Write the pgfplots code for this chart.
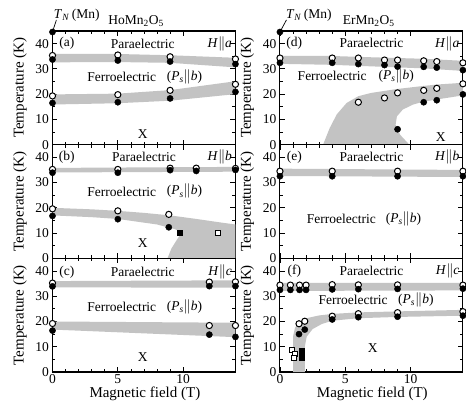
\documentclass[border=0pt]{standalone}
\usepackage{pgfplots}
\pgfplotsset{compat=1.18}
\usepgfplotslibrary{groupplots}
\usepackage{fontspec}
\setmainfont{Liberation Serif}
\definecolor{band}{RGB}{195,195,195}
\newcommand{\ft}{\fontsize{13.5}{14}\selectfont}
\newcommand{\Hpar}[1]{\textit{H}$\|$\textit{#1}}
\newcommand{\Ps}{(\textit{P}\textsubscript{\textit{s}}$\|$\textit{b})}
\tikzset{txt/.style={inner sep=0pt, font=\ft}}
\pgfplotsset{
  openc/.style={only marks, mark=*, mark size=3.1pt, mark options={fill=white, draw=black, line width=1pt}},
  fillc/.style={only marks, mark=*, mark size=3.1pt, mark options={fill=black, draw=black}},
  opens/.style={only marks, mark=square*, mark size=2.5pt, mark options={fill=white, draw=black, line width=0.9pt}},
  fills/.style={only marks, mark=square*, mark size=2.5pt, mark options={fill=black, draw=black}},
  bandf/.style={fill=band, draw=none},
}
\begin{document}
\begin{tikzpicture}
\begin{groupplot}[
  group style={group name=G, group size=2 by 3, horizontal sep=44.5pt, vertical sep=0pt, xticklabels at=edge bottom},
  scale only axis, width=183pt, height=113.7pt,
  xmin=0, xmax=14, ymin=0, ymax=45,
  xtick={0,5,10}, minor x tick num=4,
  ytick={0,10,20,30,40}, minor y tick num=1,
  axis line style={line width=1.1pt},
  tick style={line width=0.8pt, black},
  major tick length=5pt, minor tick length=3pt,
  ticklabel style={font=\ft},
  xticklabel style={yshift=1pt},
  /pgf/number format/assume math mode=true,
  ylabel={Temperature (K)},
  label style={font=\fontsize{15}{16}\selectfont},
  ylabel style={at={(axis description cs:-0.178,0.5)}, anchor=center},
  xlabel style={at={(axis description cs:0.505,-0.196)}, anchor=center},
  clip=false,
]
% (a) HoMn2O5 H||a
\nextgroupplot
\addplot[bandf] coordinates {(0,35.9) (5,35.9) (9,35.4) (14,34.4) (14,30.6) (9,32.4) (5,32.7) (0,32.6)} -- cycle;
\addplot[bandf] coordinates {(0,19.9) (5,20.2) (9,21.6) (14,25.1) (14,20.0) (9,17.4) (5,16.4) (0,15.9)} -- cycle;
\addplot[openc] coordinates {(0,35.3) (5,35.5) (9,34.8) (14,33.9) (0,19.3) (5,19.8) (9,21.5) (14,23.9)};
\addplot[fillc] coordinates {(0,33.7) (5,33.3) (9,32.9) (14,31.9) (0,16.5) (5,16.8) (9,18.3) (14,20.9) (0,44.6)};
\draw[line width=0.7pt] (axis cs:0,44.6) -- (axis cs:0.3,49.4);
\node[txt, anchor=base west] at (axis cs:0.1,50.1) {\textit{T}\textsubscript{\textit{N}}\,(Mn)};
\node[txt, anchor=base] at (axis cs:6.4,47.6) {HoMn\textsubscript{2}O\textsubscript{5}};
\node[txt] at (axis cs:1.1,40) {(a)};
\node[txt] at (axis cs:6.9,40) {Paraelectric};
\node[txt, anchor=east] at (axis cs:13.75,40) {\Hpar{a}};
\node[txt] at (axis cs:5.3,26.8) {Ferroelectric};
\node[txt] at (axis cs:10.1,26.8) {\Ps};
\node[txt] at (axis cs:6.9,4.3) {X};
% (d) ErMn2O5 H||a
\nextgroupplot
\addplot[bandf] coordinates {(0,35.2) (4,35.1) (7,34.6) (11,34.0) (14,33.2) (14,29.2) (11,30.2) (9,30.6) (4,31.6) (0,32.0)} -- cycle;
\addplot[bandf] coordinates {(3.3,0) (3.8,6.5) (4.35,12) (5.1,16.5) (6,19.2) (7,20.5) (7.9,21.2) (8.9,22) (10.9,23.2) (12,23.8) (14,24.5) (14,19.5) (12,17.9) (10.9,16.9) (10.2,15.9) (9.4,13.9) (8.95,11.2) (8.85,7.9) (9.2,3.9) (9.9,0)} -- cycle;
\addplot[openc] coordinates {(0,34.3) (4,34.3) (6,34.3) (8,33.5) (9,33.5) (11,33.2) (12,32.9) (14,32.4) (6,16.8) (8,18.5) (9,20.5) (11,21.5) (12,22.3) (14,24.1)};
\addplot[fillc] coordinates {(0,32.4) (4,32.4) (6,31.9) (8,31.5) (9,30.9) (11,30.8) (12,30.5) (14,29.5) (9,6.1) (11,16.8) (12,17.6) (14,19.9) (0,44.6)};
\draw[line width=0.7pt] (axis cs:0,44.6) -- (axis cs:0.5,49.4);
\node[txt, anchor=base west] at (axis cs:0.45,50.1) {\textit{T}\textsubscript{\textit{N}}\,(Mn)};
\node[txt, anchor=base] at (axis cs:6.8,47.6) {ErMn\textsubscript{2}O\textsubscript{5}};
\node[txt] at (axis cs:1.1,40) {(d)};
\node[txt] at (axis cs:7.0,40.1) {Paraelectric};
\node[txt, anchor=east] at (axis cs:13.75,40) {\Hpar{a}};
\node[txt] at (axis cs:4.0,27.2) {Ferroelectric};
\node[txt] at (axis cs:8.9,27.2) {\Ps};
\node[txt] at (axis cs:12.3,3.2) {X};
% (b) HoMn2O5 H||b
\nextgroupplot
\addplot[bandf] coordinates {(0,35.8) (14,36.2) (14,34.3) (0,34.0)} -- cycle;
\addplot[bandf] coordinates {(0,20) (3,19.4) (5,18.8) (7,18) (9,17) (11,15.6) (13,14.1) (14,13.4) (14,0) (8.8,0) (9.1,3.9) (9.5,7.2) (9.75,9.2) (9.75,10.5) (9.4,11.5) (8,13.4) (5,15.6) (3,16.3) (0,17.0)} -- cycle;
\addplot[openc] coordinates {(0,35.2) (5,35.2) (9,35.7) (11,35.7) (14,35.6) (0,19.6) (5,18.8) (8.9,17.4)};
\addplot[fillc] coordinates {(0,33.9) (5,33.9) (9,34.9) (11,34.6) (14,35.0) (0,16.8) (5,15.5) (8.9,12.3)};
\addplot[fills] coordinates {(9.75,10.1)};
\addplot[opens] coordinates {(12.65,10.1)};
\node[txt] at (axis cs:1.1,40) {(b)};
\node[txt] at (axis cs:7.0,40) {Paraelectric};
\node[txt, anchor=east] at (axis cs:13.75,40) {\Hpar{b}};
\node[txt] at (axis cs:5.3,26.5) {Ferroelectric};
\node[txt] at (axis cs:10.1,26.5) {\Ps};
\node[txt] at (axis cs:6.9,5.9) {X};
% (e) ErMn2O5 H||b
\nextgroupplot
\addplot[bandf] coordinates {(0,35.5) (14,35.0) (14,32.2) (0,32.6)} -- cycle;
\addplot[openc] coordinates {(0,34.5) (4,34.5) (9,34.5) (14,34.5)};
\addplot[fillc] coordinates {(0,32.5) (4,32.5) (9,32.5) (14,32.5)};
\node[txt] at (axis cs:1.1,40) {(e)};
\node[txt] at (axis cs:7.0,40.3) {Paraelectric};
\node[txt, anchor=east] at (axis cs:13.75,40) {\Hpar{b}};
\node[txt] at (axis cs:4.7,15.5) {Ferroelectric};
\node[txt] at (axis cs:9.45,15.5) {\Ps};
% (c) HoMn2O5 H||c
\nextgroupplot[xlabel={Magnetic field (T)}]
\addplot[bandf] coordinates {(0,36.0) (14,36.3) (14,33.4) (0,33.5)} -- cycle;
\addplot[bandf] coordinates {(0,20.0) (14,19.5) (14,13.8) (0,16.8)} -- cycle;
\addplot[openc] coordinates {(0,35.2) (12,35.6) (14,35.7) (0,19.2) (12,18.4) (14,18.4)};
\addplot[fillc] coordinates {(0,33.9) (12,34.0) (14,34.0) (0,16.4) (12,14.8) (14,13.9)};
\node[txt] at (axis cs:1.1,39.5) {(c)};
\node[txt] at (axis cs:6.9,39.5) {Paraelectric};
\node[txt, anchor=east] at (axis cs:13.75,39.5) {\Hpar{c}};
\node[txt] at (axis cs:5.3,25.7) {Ferroelectric};
\node[txt] at (axis cs:10.1,25.7) {\Ps};
\node[txt] at (axis cs:6.9,6.1) {X};
% (f) ErMn2O5 H||c
\nextgroupplot[xlabel={Magnetic field (T)}]
\addplot[bandf] coordinates {(0,35.3) (14,35.3) (14,32.3) (0,32.1)} -- cycle;
\addplot[bandf] coordinates {(1.0,0) (1.0,14) (1.15,17.5) (1.5,20) (2.2,21.5) (3,22.4) (4,23.0) (6,23.6) (9,24.0) (14,24.6) (14,22.3) (9,21.8) (6,21.3) (4,20.3) (3.2,19) (2.5,17) (2.05,14) (1.9,10) (1.9,0)} -- cycle;
\addplot[openc] coordinates {(0,34.4) (0.8,34.4) (1.5,34.4) (2,34.4) (4,34.6) (6,34.5) (9,34.5) (14,34.4) (1.46,19.1) (1.9,20.1) (4,22.1) (6,23.1) (9,23.5) (14,23.9)};
\addplot[fillc] coordinates {(0,32.5) (0.8,32.5) (1.5,32.5) (2,32.5) (4,32.7) (6,32.8) (9,32.9) (14,33.0) (1.46,15.0) (1.9,16.8) (4,20.8) (6,21.7) (9,21.9) (14,22.3)};
\addplot[opens] coordinates {(0.95,8.7) (1.15,7.3) (1.1,5.5)};
\addplot[fills] coordinates {(1.65,8.5) (1.65,7.0) (1.7,5.8)};
\node[txt] at (axis cs:1.1,40) {(f)};
\node[txt] at (axis cs:7.0,40.1) {Paraelectric};
\node[txt, anchor=east] at (axis cs:13.75,40) {\Hpar{c}};
\node[txt] at (axis cs:5.6,28.7) {Ferroelectric};
\node[txt] at (axis cs:10.4,28.7) {\Ps};
\node[txt] at (axis cs:7.1,9.5) {X};
\end{groupplot}
\path ([shift={(-52.5pt,31pt)}]G c1r1.north west) rectangle ++(466pt,-402pt);
\end{tikzpicture}
\end{document}
